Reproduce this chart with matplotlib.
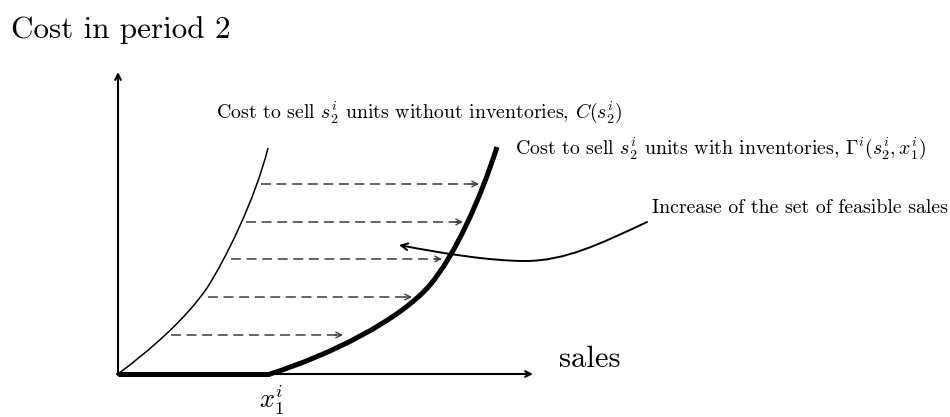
import matplotlib
matplotlib.use("Agg")
import matplotlib.pyplot as plt
from matplotlib.patches import FancyArrowPatch, PathPatch
from matplotlib.path import Path

plt.rcParams['font.family'] = 'serif'
plt.rcParams['font.serif'] = ['cmr10', 'DejaVu Serif']
plt.rcParams['mathtext.fontset'] = 'cm'
plt.rcParams['axes.unicode_minus'] = False

# ---- data (pixel-space diagram coordinates) ----
origin = (118, 374)
y_axis_top = 72
x_axis_right = 533

# thin curve: cost without inventories C(s)  (cubic bezier control points)
thin_pts = [(118, 374), (150, 350), (185, 320), (207, 288),
            (225, 260), (255, 200), (268, 148)]

# thick curve: cost with inventories Gamma(s, x1)
thick_flat = [(118, 374), (270, 374)]
thick_pts = [(270, 374), (330, 355), (400, 320), (430, 285),
             (455, 255), (480, 200), (497, 147)]

# dashed shift arrows (y, x_start, x_end)
dash_y = [184, 222, 259, 297, 335]
dash_x0 = [261, 246, 231, 208, 171]
dash_x1 = [479, 463, 442, 412, 343]

# annotation curve control points (cubic bezier)
ann_verts = [(647, 222), (600, 244), (565, 261), (525, 261),
             (490, 261), (440, 253), (399, 245)]

title_text = "Cost in period 2"
xlabel_text = "sales"
x1_label = r"$x_1^i$"
label_C = r"Cost to sell $s_2^i$ units without inventories, $C(s_2^i)$"
label_G = r"Cost to sell $s_2^i$ units with inventories, $\Gamma^i(s_2^i, x_1^i)$"
label_inc = "Increase of the set of feasible sales"

W, H = 950, 417
fig = plt.figure(figsize=(W / 100, H / 100), dpi=100)
ax = fig.add_axes([0, 0, 1, 1])
ax.set_xlim(0, W)
ax.set_ylim(H, 0)
ax.axis('off')

C4 = [Path.MOVETO] + [Path.CURVE4] * 6

# axes arrows
ax.annotate('', xy=(origin[0], y_axis_top), xytext=(origin[0], origin[1] + 1),
            arrowprops=dict(arrowstyle='->', lw=1.5, color='black',
                            shrinkA=0, shrinkB=0))
ax.annotate('', xy=(x_axis_right, origin[1]), xytext=(origin[0] - 1, origin[1]),
            arrowprops=dict(arrowstyle='->', lw=1.5, color='black',
                            shrinkA=0, shrinkB=0))

# curves
ax.add_patch(PathPatch(Path(thin_pts, C4), fill=False, lw=1.1,
                       edgecolor='black'))
ax.plot([p[0] for p in thick_flat], [p[1] for p in thick_flat],
        color='black', lw=3.6, solid_capstyle='butt')
ax.add_patch(PathPatch(Path(thick_pts, C4), fill=False, lw=3.6,
                       edgecolor='black', capstyle='butt'))

# dashed arrows
for y, x0, x1 in zip(dash_y, dash_x0, dash_x1):
    ax.plot([x0, x1 - 2], [y, y], color='#3a3a3a', lw=1.1,
            dashes=(6.5, 3.7))
    ax.annotate('', xy=(x1, y), xytext=(x1 - 8, y),
                arrowprops=dict(arrowstyle='->', lw=1.0, color='#3a3a3a',
                                shrinkA=0, shrinkB=0, mutation_scale=10))

# annotation arrow
arr = FancyArrowPatch(path=Path(ann_verts, C4), arrowstyle='->',
                      lw=1.4, color='black', mutation_scale=12,
                      shrinkA=0, shrinkB=0)
ax.add_patch(arr)

# texts
ax.text(11, 38, title_text, fontsize=22.4, ha='left', va='baseline')
ax.text(559, 367, xlabel_text, fontsize=22, ha='left', va='baseline')
ax.text(271, 400, x1_label, fontsize=19, ha='center', va='center')
ax.text(216, 112, label_C, fontsize=14.3, ha='left', va='center')
ax.text(515, 148, label_G, fontsize=14.3, ha='left', va='center')
ax.text(652, 208, label_inc, fontsize=14.3, ha='left', va='center')

fig.savefig('out.png', dpi=100)
